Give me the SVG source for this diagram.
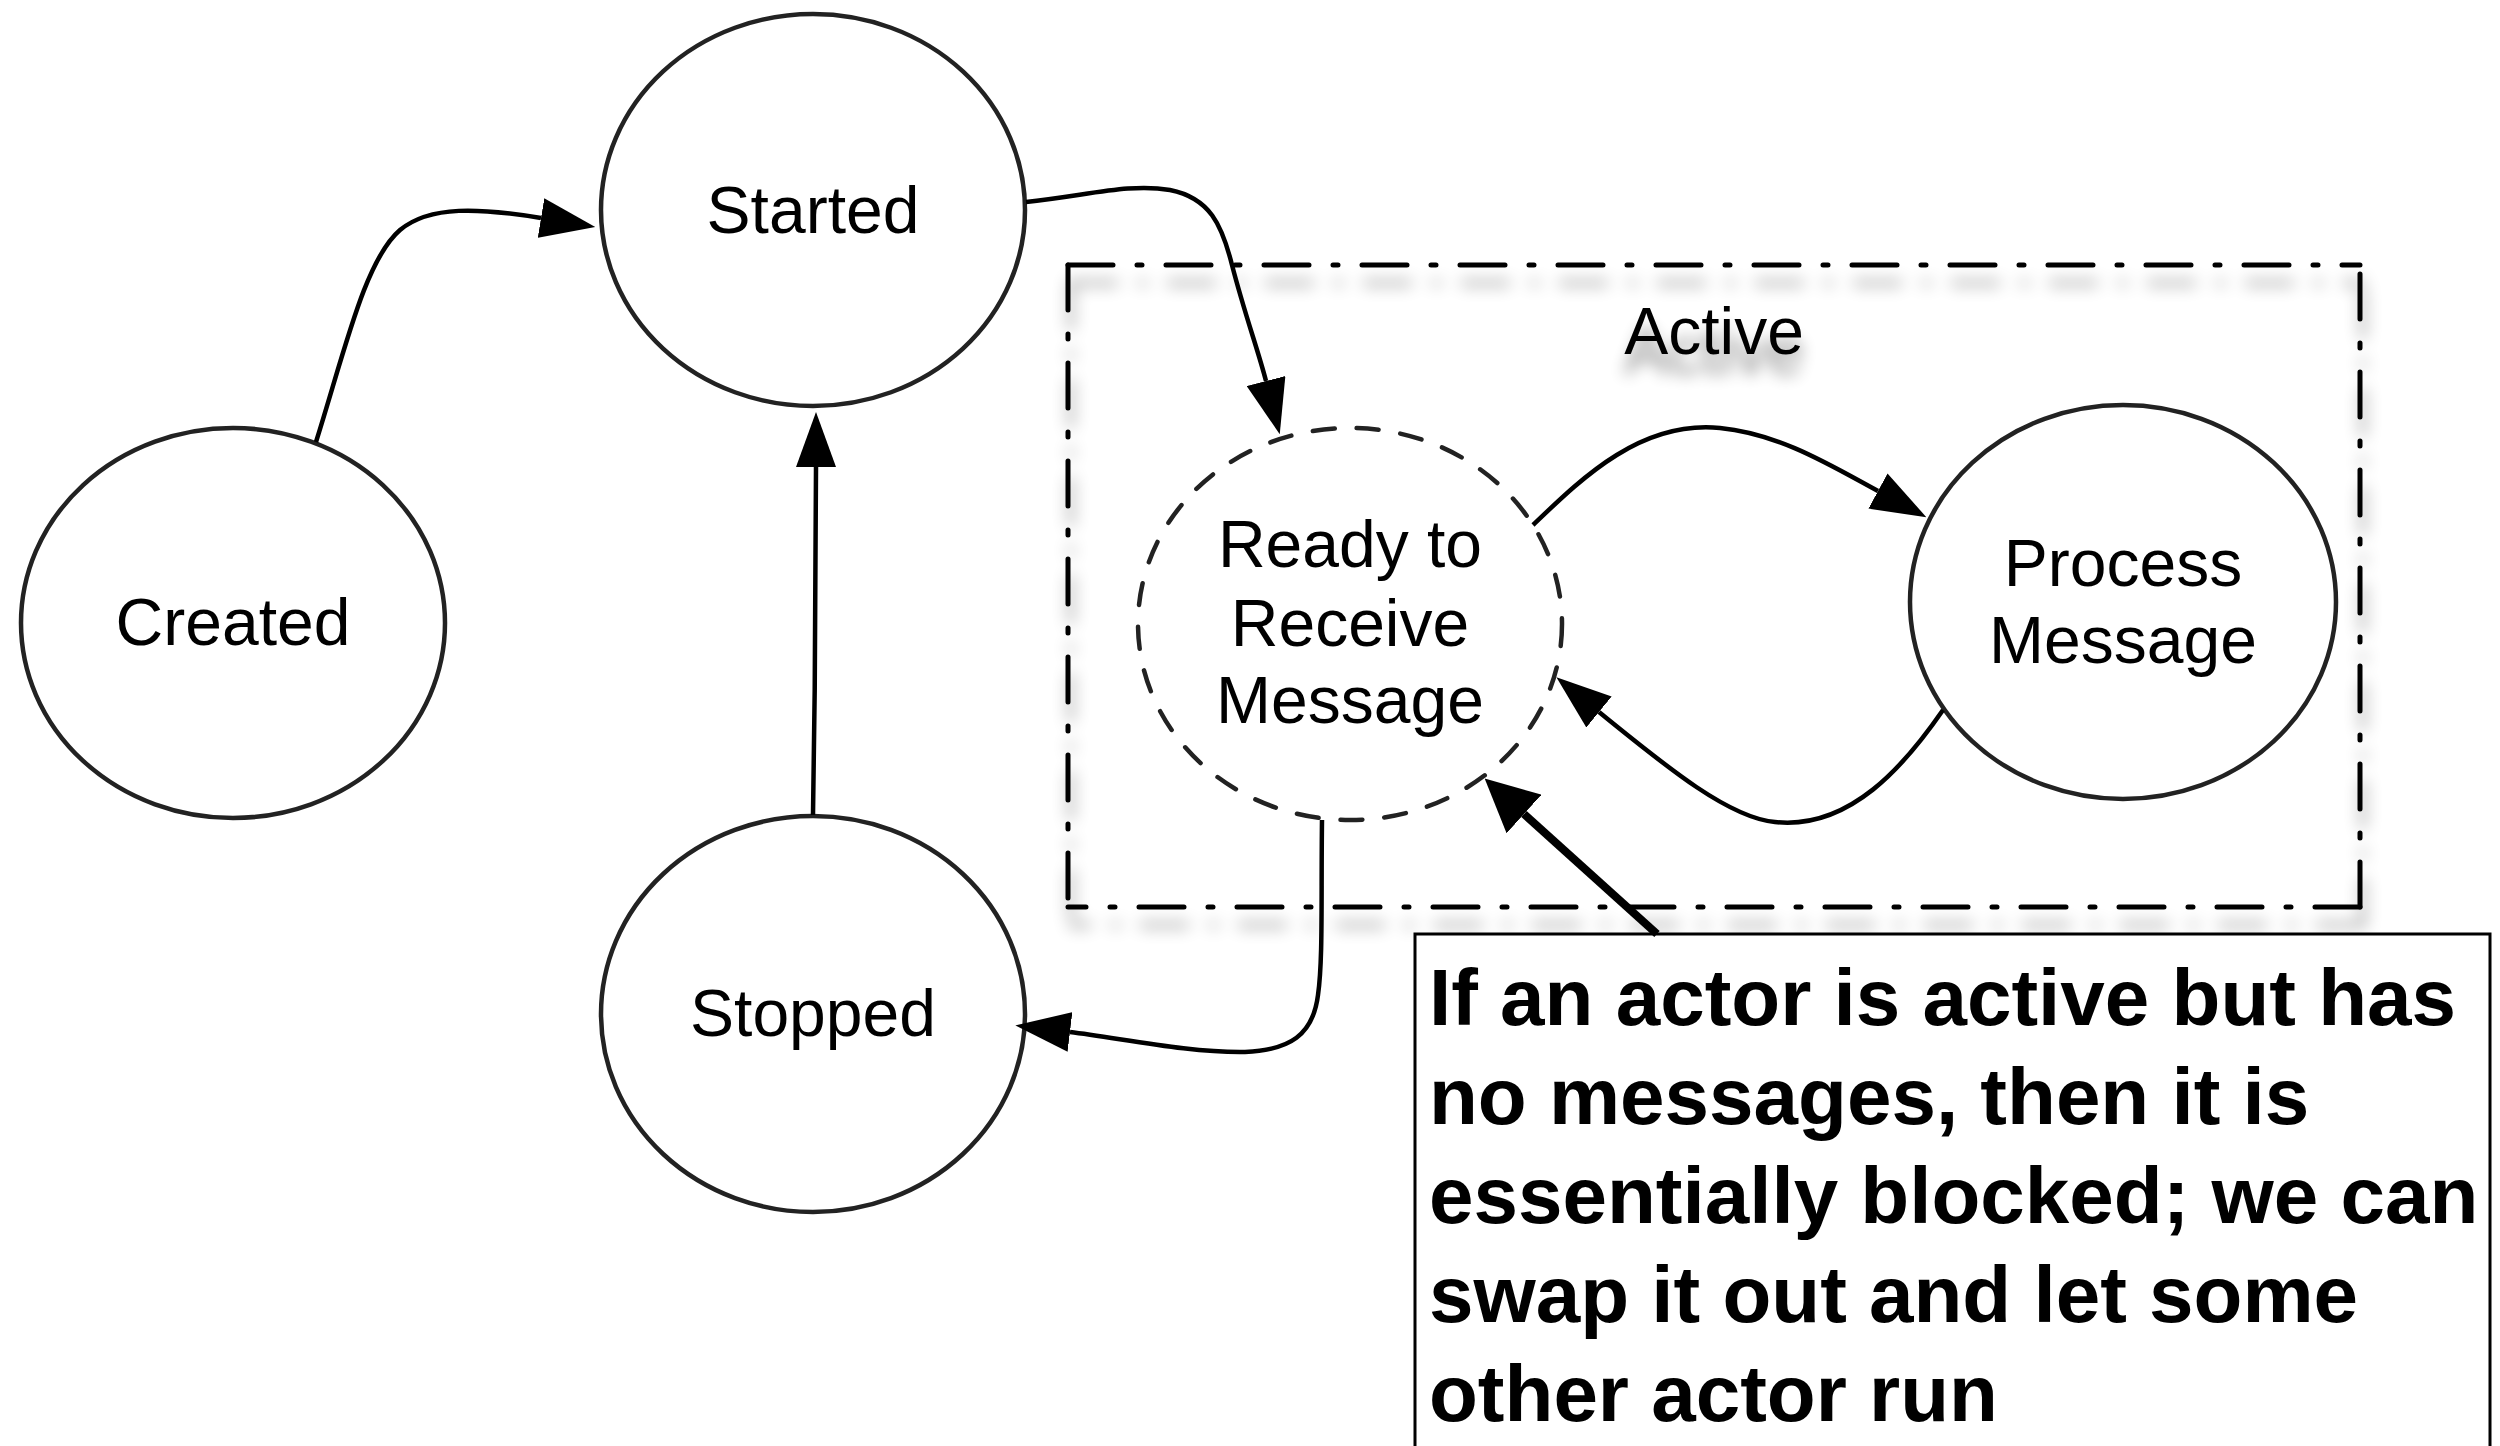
<svg xmlns="http://www.w3.org/2000/svg" width="2500" height="1446" viewBox="0 0 2500 1446">
  <style>
    .state { fill: #ffffff; stroke: #222222; stroke-width: 4.5; }
    .state.dashed { fill: none; stroke-dasharray: 22 22; stroke-linecap: round; }
    .label { font-family: "Liberation Sans", Arial, Helvetica, sans-serif; font-size: 66px; fill: #000000; text-anchor: middle; }
    .edge { fill: none; stroke: #000000; stroke-width: 4.5; }
    .edge.thick { stroke-width: 8; }
    .frame { fill: none; stroke: #000000; stroke-width: 5; stroke-linecap: round; stroke-dasharray: 45 24 5 24; }
    .note-box { fill: #ffffff; stroke: #000000; stroke-width: 3; }
    .note { font-family: "Liberation Sans", Arial, Helvetica, sans-serif; font-size: 80px; font-weight: bold; fill: #000000; }
  </style>
  <defs>
    <marker id="arrow" markerUnits="userSpaceOnUse" viewBox="0 0 55 40" markerWidth="55" markerHeight="40" refX="0" refY="20" orient="auto">
      <path d="M0,0 L55,20 L0,40 Z" fill="#000000"/>
    </marker>
    <marker id="arrow-big" markerUnits="userSpaceOnUse" viewBox="0 0 53 52" markerWidth="53" markerHeight="52" refX="0" refY="26" orient="auto">
      <path d="M0,0 L53,26 L0,52 Z" fill="#000000"/>
    </marker>
    <filter id="soft-shadow" x="-10%" y="-10%" width="120%" height="130%">
      <feGaussianBlur in="SourceAlpha" stdDeviation="8"/>
      <feOffset dx="3" dy="18" result="blur"/>
      <feComponentTransfer><feFuncA type="linear" slope="0.4"/></feComponentTransfer>
      <feMerge><feMergeNode/><feMergeNode in="SourceGraphic"/></feMerge>
    </filter>
    <filter id="text-shadow" x="-30%" y="-50%" width="160%" height="220%">
      <feGaussianBlur in="SourceAlpha" stdDeviation="8"/>
      <feOffset dx="0" dy="20"/>
      <feComponentTransfer><feFuncA type="linear" slope="0.45"/></feComponentTransfer>
      <feMerge><feMergeNode/><feMergeNode in="SourceGraphic"/></feMerge>
    </filter>
  </defs>

  <!-- Active composite state frame -->
  <g id="active">
    <g filter="url(#soft-shadow)">
      <line class="frame" x1="1068" y1="265" x2="2360" y2="265"/>
      <line class="frame" x1="1068" y1="265" x2="1068" y2="907"/>
      <line class="frame" x1="2360" y1="907" x2="2360" y2="265"/>
      <line class="frame" x1="2360" y1="907" x2="1068" y2="907"/>
    </g>
    <text class="label" x="1714" y="354" filter="url(#text-shadow)">Active</text>
  </g>

  <g id="created">
    <ellipse class="state" cx="233" cy="623" rx="212" ry="195"/>
    <text class="label" x="233" y="645">Created</text>
  </g>

  <g id="started">
    <ellipse class="state" cx="813" cy="210" rx="212" ry="196"/>
    <text class="label" x="813" y="233">Started</text>
  </g>

  <g id="stopped">
    <ellipse class="state" cx="813" cy="1014" rx="212" ry="198"/>
    <text class="label" x="813" y="1036">Stopped</text>
  </g>

  <g id="ready">
    <ellipse class="state dashed" cx="1350" cy="624" rx="212" ry="196"/>
    <text class="label" x="1350" y="567">Ready to</text>
    <text class="label" x="1350" y="646">Receive</text>
    <text class="label" x="1350" y="723">Message</text>
  </g>

  <g id="process">
    <ellipse class="state" cx="2123" cy="602" rx="213" ry="197"/>
    <text class="label" x="2123" y="586">Process</text>
    <text class="label" x="2123" y="663">Message</text>
  </g>

  <!-- Transitions -->
  <g id="connectors">
    <path class="edge" marker-end="url(#arrow)" d="M316,442 C345,350 365,260 400,230 C430,205 480,208 541,218"/>
    <path class="edge" marker-end="url(#arrow)" d="M813,815 C815,700 816,560 816,467"/>
    <path class="edge" marker-end="url(#arrow)" d="M1026,202 C1090,195 1130,183 1170,190 C1210,198 1222,225 1232,265 C1245,315 1258,350 1266,381"/>
    <path class="edge" marker-end="url(#arrow)" d="M1533,525 C1580,480 1640,420 1720,428 C1780,434 1830,465 1878,491"/>
    <path class="edge" marker-end="url(#arrow)" d="M1943,710 C1905,765 1850,830 1775,822 C1730,818 1670,770 1599,712"/>
    <path class="edge" marker-end="url(#arrow)" d="M1322,820 C1321,900 1323,960 1318,995 C1313,1035 1290,1050 1245,1052 C1190,1053 1120,1038 1070,1032"/>
  </g>

  <!-- Annotation -->
  <g id="note">
    <rect class="note-box" x="1415" y="934" width="1075" height="540"/>
    <text class="note" x="1429" y="1025">If an actor is active but has</text>
    <text class="note" x="1429" y="1124">no messages, then it is</text>
    <text class="note" x="1429" y="1223">essentially blocked; we can</text>
    <text class="note" x="1429" y="1322">swap it out and let some</text>
    <text class="note" x="1429" y="1421">other actor run</text>
  </g>
  <g id="note-pointer">
    <path class="edge thick" marker-end="url(#arrow-big)" d="M1657,934 L1524,814"/>
  </g>
</svg>
